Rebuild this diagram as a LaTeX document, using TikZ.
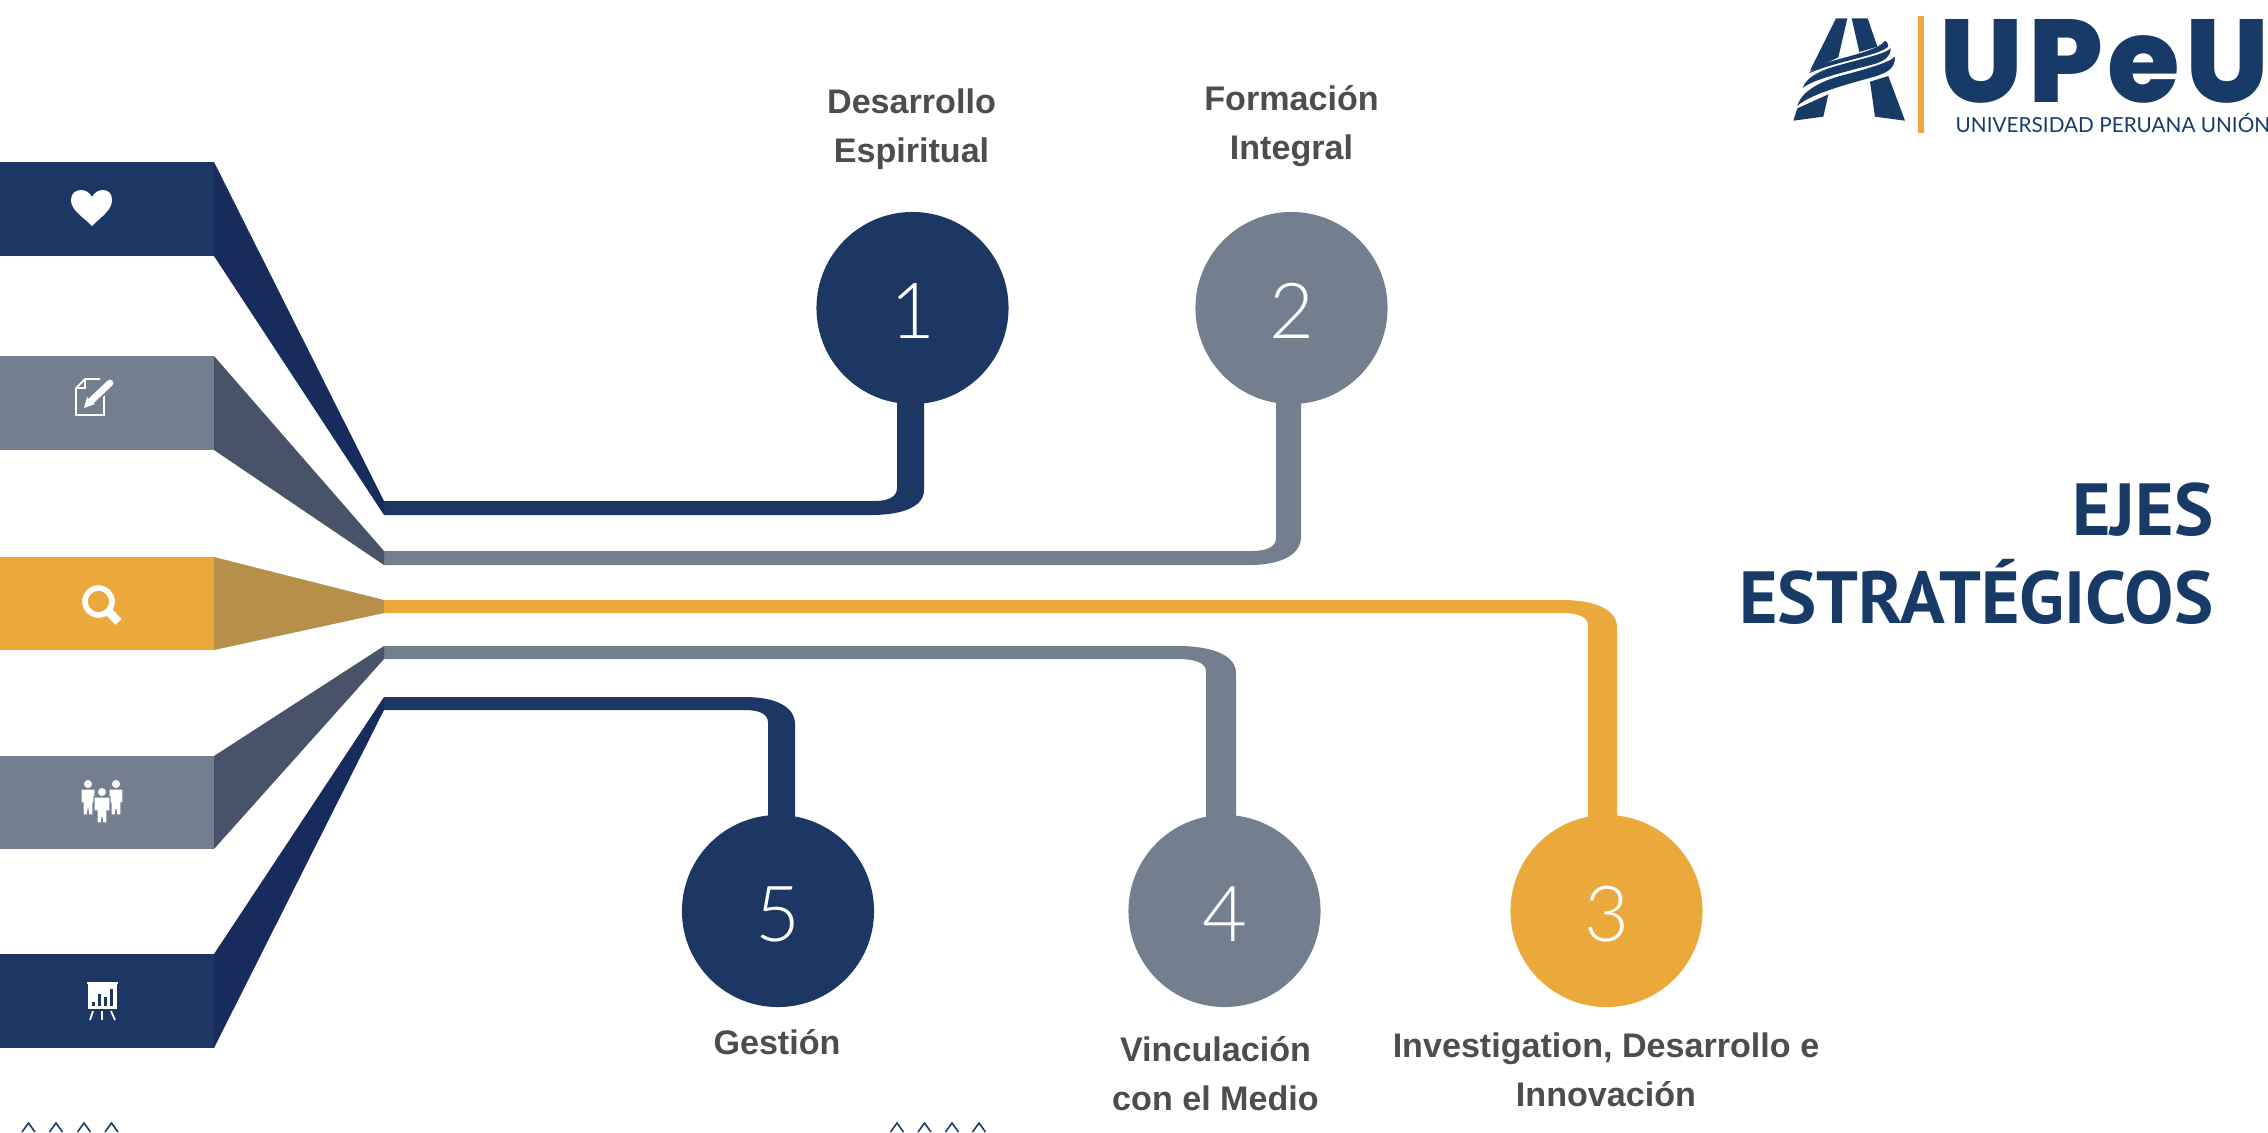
\documentclass[tikz,border=0pt]{standalone}
\usepackage{fontspec}
\setmainfont{Liberation Sans}
\newfontfamily\titlefont{PT Sans}
\newfontfamily\logofont[LetterSpace=4]{Poppins ExtraBold}
\newfontfamily\subfont{Lato}
\newfontfamily\numfont{Lato Light}
\usetikzlibrary{calc,positioning,backgrounds}
\definecolor{navy}{HTML}{1C3763}
\definecolor{navydark}{HTML}{172B5C}
\definecolor{slate}{HTML}{737F8E}
\definecolor{slatedark}{HTML}{485268}
\definecolor{gold}{HTML}{EAA93A}
\definecolor{golddark}{HTML}{B68F4A}
\definecolor{labelgray}{HTML}{4D4D4D}
\definecolor{logoblue}{HTML}{173A67}
\tikzset{
  eje/.style={circle,minimum size=1.92cm,inner sep=0pt,text=white,text height=17.5pt,text depth=0pt,font=\numfont\fontsize{22}{22}\selectfont},
  tag/.style={align=center,text=labelgray,font=\fontsize{9.7}{14}\selectfont\bfseries,inner sep=0pt},
  icon/.style={white,line width=0.5pt},
}
% bar and side wedge: colour, dark colour, bar top, bar bottom, line top, line bottom
\newcommand{\sidebar}[6]{
  \fill[#1] (0,#3) rectangle (214,#4);
  \fill[#2] (214,#3) -- (384,#5) -- (384,#6) -- (214,#4) -- cycle;
}
\begin{document}
\begin{tikzpicture}[x=0.01cm,y=-0.01cm]
\useasboundingbox (0,0) rectangle (2268,1132);
% bars
\sidebar{navy}{navydark}{162}{256}{501}{515}
\sidebar{slate}{slatedark}{356}{450}{551}{565}
\sidebar{gold}{golddark}{557}{650}{600}{613}
\sidebar{slate}{slatedark}{756}{849}{646}{659}
\sidebar{navy}{navydark}{954}{1048}{697}{710}
% circles
\node[eje,fill=navy] (c1) at (912.5,308) {1};
\node[eje,fill=slate] (c2) at (1291.5,308) {2};
\node[eje,fill=gold] (c3) at (1606.5,911) {3};
\node[eje,fill=slate] (c4) at (1224.5,911) {4};
\node[eje,fill=navy] (c5) at (778,911) {5};
% branches
\begin{scope}[on background layer]
\fill[navy] (384,501) -- (874,501) .. controls (888,501) and (897,497) .. (897,488) -- (897,0 |- c1) -- (924,0 |- c1) -- (924,490)
  .. controls (924,507) and (902,515) .. (871,515) -- (384,515) -- cycle;
\fill[slate] (384,551) -- (1252,551) .. controls (1266,551) and (1276,547) .. (1276,538) -- (1276,0 |- c2) -- (1301,0 |- c2) -- (1301,537)
  .. controls (1301,555) and (1280,565) .. (1250,565) -- (384,565) -- cycle;
\fill[gold] (384,600) -- (1562,600) .. controls (1596,600) and (1617,610) .. (1617,627) -- (1617,0 |- c3) -- (1588,0 |- c3) -- (1588,625)
  .. controls (1588,617) and (1578,613) .. (1562,613) -- (384,613) -- cycle;
\fill[slate] (384,646) -- (1178,646) .. controls (1214,646) and (1236,656) .. (1236,673) -- (1236,0 |- c4) -- (1206,0 |- c4) -- (1206,671)
  .. controls (1206,663) and (1195,659) .. (1178,659) -- (384,659) -- cycle;
\fill[navy] (384,697) -- (745,697) .. controls (776,697) and (795,707) .. (795,724) -- (795,0 |- c5) -- (768,0 |- c5) -- (768,722)
  .. controls (768,714) and (759,710) .. (745,710) -- (384,710) -- cycle;
\end{scope}
% labels
\node[tag] (t1) at (911.5,129) {Desarrollo\\Espiritual};
\node[tag] (t2) at (1291.5,126) {Formación\\Integral};
\node[tag] (t3) at (1606,1070) {Investigation, Desarrollo e\\Innovación};
\node[tag] (t4) at (1215.5,1074) {Vinculación\\con el Medio};
\node[tag] (t5) at (777,1042) {Gestión};
% title
\node[align=right,anchor=east,text=logoblue,font=\titlefont\fontsize{21}{25}\selectfont\bfseries,inner sep=0pt] (title) at (2214,554) {EJES\\ESTRATÉGICOS};
% heart
\fill[white] (92,226) .. controls (82,216) and (71,210) .. (71,200) .. controls (71,193) and (76,190) .. (81,190)
  .. controls (86,190) and (90,193) .. (92,197) .. controls (94,193) and (98,190) .. (103,190)
  .. controls (108,190) and (112,193) .. (112,200) .. controls (112,210) and (102,216) .. (92,226) -- cycle;
% note and pen
\draw[icon] (104,392) -- (104,415) -- (76,415) -- (76,388) -- (85,379) -- (100,379);
\draw[icon] (76,388) -- (85,388) -- (85,379);
\draw[slate,line width=3pt] (88,404) -- (111,382);
\draw[white,line width=1.9pt,line cap=round] (92,400) -- (110,383);
\fill[white] (84,408) -- (87,397) -- (95,404) -- cycle;
% lens
\draw[white,line width=1.6pt] (98.5,601.5) circle (13.5);
\draw[white,line width=2.4pt] (109,612) -- (118.5,622);
% people
\foreach \px/\py/\pw in {88/784/7,116/784/7,102/792/8}{
  \begin{scope}[shift={(\px,\py)}]
    \fill[white] (0,0) circle (4);
    \filldraw[white,draw=slate,line width=0.3pt] (-\pw,5) -- (\pw,5) -- (\pw,19) -- (5,19) -- (5,31) -- (0.5,31) -- (0,25) -- (-0.5,31) -- (-5,31) -- (-5,19) -- (-\pw,19) -- cycle;
  \end{scope}
}
% board
\fill[white] (87,982) rectangle (118,984);
\fill[white] (88,984) rectangle (117,1009);
\foreach \bx/\by in {92/1002,98/994,104/997,110/989}{
  \fill[navy] (\bx,\by) rectangle (\bx+3.4,1006);
}
\draw[icon] (93,1011) -- (90,1020);
\draw[icon] (102.3,1011) -- (102.3,1020);
\draw[icon] (111,1011) -- (115,1020);
% chevrons
\foreach \cx in {28.5,56,84,111.5,897,924.5,952,979}{
  \draw[logoblue,line width=0.45pt] (\cx-6.5,1132) -- (\cx,1123) -- (\cx+6.5,1132);
}
% logo
\begin{scope}[shift={(1760,0)},x=0.01cm/3,y=-0.01cm/3]
  \fill[logoblue] (228,55) -- (262,55) -- (235,172) -- (150,212) -- cycle;
  \fill[logoblue] (275,55) -- (323,55) -- (352,140) -- (298,156) -- cycle;
  \fill[logoblue] (375,122) .. controls (360,145) and (300,160) .. (235,178) .. controls (195,188) and (160,200) .. (147,220)
    .. controls (200,195) and (300,175) .. (350,158) .. controls (370,150) and (382,145) .. (385,138) .. controls (385,130) and (380,125) .. (375,122) -- cycle;
  \fill[logoblue] (392,145) .. controls (380,160) and (300,178) .. (250,192) .. controls (200,205) and (140,225) .. (128,264)
    .. controls (160,235) and (300,205) .. (350,190) .. controls (375,180) and (392,170) .. (392,145) -- cycle;
  \fill[logoblue] (405,170) .. controls (385,190) and (300,212) .. (240,228) .. controls (190,242) and (125,270) .. (112,318)
    .. controls (150,280) and (290,245) .. (350,228) .. controls (385,215) and (405,205) .. (405,170) -- cycle;
  \fill[logoblue] (112,325) -- (205,283) -- (190,350) -- (100,362) -- cycle;
  \fill[logoblue] (330,245) -- (385,228) -- (435,362) -- (345,350) -- cycle;
\end{scope}
\fill[gold] (1918,16) rectangle (1924,133);
\node[inner sep=0pt,anchor=base west,text=logoblue,font=\logofont\fontsize{33.5}{34}\selectfont] (upeu) at (1939,102) {UPeU};
\node[inner sep=0pt,anchor=base west,text=logoblue,font=\subfont\fontsize{5.9}{7}\selectfont] (uni) at (1955,132) {UNIVERSIDAD PERUANA UNIÓN};
\end{tikzpicture}
\end{document}
